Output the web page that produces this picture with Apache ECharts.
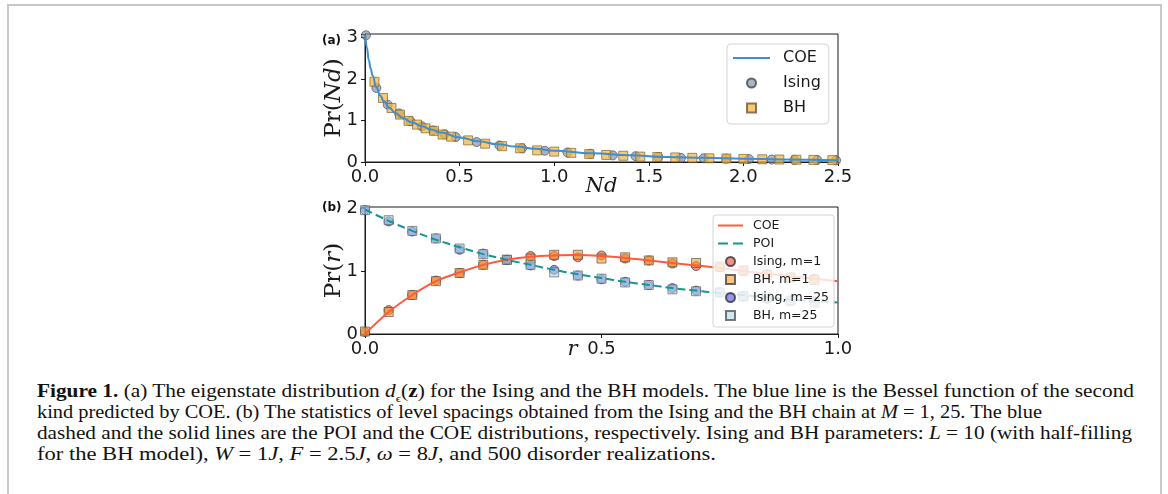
<!DOCTYPE html>
<html lang="en">
<head>
<meta charset="UTF-8">
<title>Figure 1</title>
<script src="https://cdn.jsdelivr.net/npm/echarts@6/dist/echarts.min.js"></script>
<style>
  html, body { margin: 0; padding: 0; background: #fff; }
  .frame { position: absolute; left: 7px; top: 4px; width: 1155px; height: 520px; border: 2px solid #c8c8c8; box-sizing: border-box; }
  #chart { position: absolute; left: 0; top: 0; width: 1168px; height: 370px; }
  .cap { position: absolute; left: 37px; top: 381px; font-family: 'Liberation Serif', serif; font-size: 18px; line-height: 21px; color: #111; white-space: nowrap; }
  .cap .ln { display: block; width: max-content; transform-origin: 0 50%; }
  .cap sub { font-size: 11px; line-height: 0; }
</style>
</head>
<body>
<div class="frame"></div>
<div id="chart"></div>
<div class="cap">
  <span class="ln" data-w="1097"><b>Figure 1.</b> (a) The eigenstate distribution <i>d</i><sub>ϵ</sub>(<b>z</b>) for the Ising and the BH models. The blue line is the Bessel function of the second</span>
  <span class="ln" data-w="1005">kind predicted by COE. (b) The statistics of level spacings obtained from the Ising and the BH chain at <i>M</i> = 1, 25. The blue</span>
  <span class="ln" data-w="1095">dashed and the solid lines are the POI and the COE distributions, respectively. Ising and BH parameters: <i>L</i> = 10 (with half-filling</span>
  <span class="ln" data-w="679">for the BH model), <i>W</i> = 1<i>J</i>, <i>F</i> = 2.5<i>J</i>, <i>ω</i> = 8<i>J</i>, and 500 disorder realizations.</span>
</div>

<script>
  // (a) eigenstate distribution
  var coeNdX = [0.002, 0.01, 0.02, 0.03, 0.04, 0.06, 0.08, 0.1, 0.13, 0.16, 0.2, 0.25, 0.3, 0.35, 0.4, 0.5, 0.6, 0.7, 0.8, 0.9, 1.0, 1.2, 1.4, 1.6, 1.8, 2.0, 2.2, 2.5];
  var coeNdY = [3.05, 2.75, 2.45, 2.25, 2.08, 1.8, 1.6, 1.46, 1.3, 1.18, 1.06, 0.95, 0.86, 0.78, 0.71, 0.59, 0.5, 0.43, 0.37, 0.32, 0.27, 0.21, 0.16, 0.12, 0.1, 0.08, 0.06, 0.04];
  var isingNdX = [0.005, 0.06, 0.12, 0.18, 0.24, 0.3, 0.36, 0.42, 0.48, 0.59, 0.71, 0.83, 0.95, 1.07, 1.19, 1.31, 1.43, 1.55, 1.67, 1.79, 1.91, 2.03, 2.15, 2.27, 2.39, 2.49];
  var isingNdY = [3.05, 1.78, 1.38, 1.17, 0.98, 0.86, 0.76, 0.67, 0.6, 0.48, 0.4, 0.33, 0.27, 0.23, 0.2, 0.16, 0.14, 0.12, 0.1, 0.09, 0.08, 0.07, 0.06, 0.05, 0.05, 0.04];
  var bhNdX = [0.05, 0.095, 0.14, 0.185, 0.23, 0.275, 0.32, 0.365, 0.41, 0.455, 0.545, 0.635, 0.725, 0.82, 0.91, 1.0, 1.09, 1.185, 1.275, 1.365, 1.455, 1.545, 1.64, 1.73, 1.82, 1.91, 2.0, 2.1, 2.19, 2.28, 2.37, 2.47];
  var bhNdY = [1.93, 1.54, 1.3, 1.14, 0.99, 0.9, 0.81, 0.75, 0.66, 0.61, 0.52, 0.44, 0.38, 0.33, 0.28, 0.25, 0.22, 0.19, 0.17, 0.15, 0.13, 0.12, 0.11, 0.1, 0.09, 0.085, 0.075, 0.065, 0.06, 0.055, 0.05, 0.045];

  // (b) level spacing ratio
  var curveR = [0, 0.05, 0.1, 0.15, 0.2, 0.25, 0.3, 0.35, 0.4, 0.45, 0.5, 0.55, 0.6, 0.65, 0.7, 0.75, 0.8, 0.85, 0.9, 0.95, 1.0];
  var coeR = [0, 0.35, 0.62, 0.84, 0.98, 1.1, 1.18, 1.23, 1.25, 1.255, 1.24, 1.21, 1.17, 1.13, 1.09, 1.05, 1.0, 0.96, 0.92, 0.88, 0.84];
  var poiR = [1.98, 1.8, 1.64, 1.5, 1.38, 1.27, 1.18, 1.1, 1.02, 0.95, 0.89, 0.83, 0.78, 0.73, 0.69, 0.65, 0.62, 0.58, 0.55, 0.52, 0.5];
  var pointR = [0, 0.05, 0.1, 0.15, 0.2, 0.25, 0.3, 0.35, 0.4, 0.45, 0.5, 0.55, 0.6, 0.65, 0.7, 0.75, 0.8, 0.85, 0.9, 0.95];
  var isingM1 = [0.03, 0.38, 0.62, 0.85, 0.97, 1.1, 1.18, 1.24, 1.24, 1.22, 1.25, 1.2, 1.17, 1.12, 1.08, 1.06, 1.0, 0.95, 0.9, 0.88];
  var bhM1 = [0.04, 0.35, 0.62, 0.84, 0.97, 1.1, 1.18, 1.2, 1.26, 1.26, 1.2, 1.22, 1.17, 1.14, 1.13, 1.07, 1.01, 0.94, 0.9, 0.86];
  var isingM25 = [1.97, 1.79, 1.63, 1.52, 1.34, 1.28, 1.18, 1.09, 1.02, 0.93, 0.87, 0.83, 0.78, 0.73, 0.69, 0.66, 0.6, 0.56, 0.53, 0.52];
  var bhM25 = [1.97, 1.81, 1.64, 1.52, 1.36, 1.27, 1.18, 1.1, 0.98, 0.93, 0.88, 0.82, 0.78, 0.71, 0.68, 0.66, 0.6, 0.58, 0.53, 0.5];

  function pairs(xs, ys) {
    return xs.map(function (x, i) { return [x, ys[i]]; });
  }

  // legend handles
  var lineIconA = 'path://M0,0H37V2H0Z';
  var lineIconB = 'path://M0,0H25V2H0Z';
  var dashIconB = 'path://M0,0H10V2H0Z M15,0H25V2H15Z';
  var squareIcon = 'path://M0,0H10V10H0Z';

  var ink = '#1a1a1a';
  var tickFont = { fontFamily: 'DejaVu Sans', fontSize: 18, color: ink };
  function serifRich(size) {
    return {
      n: { fontFamily: 'DejaVu Serif', fontSize: size, color: ink },
      i: { fontFamily: 'DejaVu Serif', fontStyle: 'italic', fontSize: size, color: ink }
    };
  }

  function xAxisCfg(idx, max, name, gap, namePad) {
    return {
      gridIndex: idx, type: 'value', min: 0, max: max, interval: 0.5,
      name: name, nameLocation: 'middle', nameGap: gap, nameMoveOverlap: false,
      nameTextStyle: { rich: serifRich(21), padding: namePad },
      axisLine: { lineStyle: { color: ink, width: 1 } },
      axisTick: { length: 4, lineStyle: { color: ink } },
      axisLabel: Object.assign({ margin: 6, formatter: function (v) { return v.toFixed(1); } }, tickFont),
      splitLine: { show: false }
    };
  }

  function yAxisCfg(idx, max, name) {
    return {
      gridIndex: idx, type: 'value', min: 0, max: max, interval: 1,
      name: name, nameLocation: 'middle', nameGap: 19, nameMoveOverlap: false,
      nameTextStyle: { rich: serifRich(23) },
      axisLine: { lineStyle: { color: ink, width: 1 } },
      axisTick: { length: 4, lineStyle: { color: ink } },
      axisLabel: Object.assign({ margin: 7, formatter: function (v) { return Math.abs(v - Math.round(v)) < 1e-6 ? String(Math.round(v)) : ''; } }, tickFont),
      splitLine: { show: false }
    };
  }

  var options = {
    animation: false,
    grid: [
      { left: 365, top: 34, width: 473, height: 128, show: true, borderColor: ink, borderWidth: 1 },
      { left: 365, top: 207, width: 473, height: 127, show: true, borderColor: ink, borderWidth: 1 }
    ],
    xAxis: [
      xAxisCfg(0, 2.5, '{i|Nd}', 14, [0, 0, 0, 0]),
      xAxisCfg(1, 1.0, '{i|r}', 5, [0, 58, 0, 0])
    ],
    yAxis: [
      yAxisCfg(0, 3.08, '{n|Pr(}{i|Nd}{n|)}'),
      yAxisCfg(1, 2.02, '{n|Pr(}{i|r}{n|)}')
    ],
    graphic: [
      { type: 'text', left: 322, top: 35, style: { text: '(a)', font: 'bold 12px "DejaVu Sans"', fill: '#111' } },
      { type: 'text', left: 322, top: 202, style: { text: '(b)', font: 'bold 12px "DejaVu Sans"', fill: '#111' } }
    ],
    legend: [
      {
        data: [
          { name: 'COE', icon: lineIconA },
          { name: 'Ising', icon: 'circle' },
          { name: 'BH', icon: squareIcon }
        ],
        orient: 'vertical', left: 727, top: 44,
        padding: [6, 8, 8, 6], itemGap: 9, itemWidth: 37, itemHeight: 9,
        backgroundColor: 'rgba(255,255,255,0.85)', borderColor: '#d4d4d4', borderWidth: 1, borderRadius: 4,
        selectedMode: false,
        textStyle: { fontFamily: 'DejaVu Sans', fontSize: 16, color: ink, padding: [0, 0, 0, 8] }
      },
      {
        data: [
          { name: 'COE ', icon: lineIconB },
          { name: 'POI', icon: dashIconB },
          { name: 'Ising, m=1', icon: 'circle' },
          { name: 'BH, m=1', icon: squareIcon },
          { name: 'Ising, m=25', icon: 'circle' },
          { name: 'BH, m=25', icon: squareIcon }
        ],
        orient: 'vertical', left: 713, top: 215,
        padding: [4, 5, 5, 5], itemGap: 5, itemWidth: 25, itemHeight: 9,
        backgroundColor: 'rgba(255,255,255,0.8)', borderColor: '#d4d4d4', borderWidth: 1, borderRadius: 3,
        selectedMode: false,
        formatter: function (n) { return n.trim(); },
        textStyle: { fontFamily: 'DejaVu Sans', fontSize: 12.5, color: ink, padding: [0, 0, 0, 5] }
      }
    ],
    series: [
      {
        name: 'COE', type: 'line', xAxisIndex: 0, yAxisIndex: 0, data: pairs(coeNdX, coeNdY),
        symbol: 'none', smooth: true, smoothMonotone: 'x',
        lineStyle: { color: '#3d8fd0', width: 2 }, itemStyle: { color: '#3d8fd0' }
      },
      {
        name: 'Ising', type: 'scatter', xAxisIndex: 0, yAxisIndex: 0, data: pairs(isingNdX, isingNdY),
        symbol: 'circle', symbolSize: 9,
        itemStyle: { color: 'rgba(125,138,152,0.8)', borderColor: '#3c4650', borderWidth: 0.8 }
      },
      {
        name: 'BH', type: 'scatter', xAxisIndex: 0, yAxisIndex: 0, data: pairs(bhNdX, bhNdY),
        symbol: 'rect', symbolSize: 9,
        itemStyle: { color: 'rgba(246,178,52,0.88)', borderColor: '#6b5636', borderWidth: 0.8 }
      },
      {
        name: 'COE ', type: 'line', xAxisIndex: 1, yAxisIndex: 1, data: pairs(curveR, coeR),
        symbol: 'none', smooth: 0.35,
        lineStyle: { color: '#ff5a3a', width: 2 }, itemStyle: { color: '#ff5a3a' }
      },
      {
        name: 'POI', type: 'line', xAxisIndex: 1, yAxisIndex: 1, data: pairs(curveR, poiR),
        symbol: 'none', smooth: 0.35,
        lineStyle: { color: '#16968f', width: 2, type: [8, 4] }, itemStyle: { color: '#16968f' }
      },
      {
        name: 'Ising, m=1', type: 'scatter', xAxisIndex: 1, yAxisIndex: 1, data: pairs(pointR, isingM1),
        symbol: 'circle', symbolSize: 9,
        itemStyle: { color: 'rgba(235,70,60,0.75)', borderColor: '#333', borderWidth: 0.8 }
      },
      {
        name: 'BH, m=1', type: 'scatter', xAxisIndex: 1, yAxisIndex: 1, data: pairs(pointR, bhM1),
        symbol: 'rect', symbolSize: 9,
        itemStyle: { color: 'rgba(247,160,40,0.75)', borderColor: '#444', borderWidth: 0.8 }
      },
      {
        name: 'Ising, m=25', type: 'scatter', xAxisIndex: 1, yAxisIndex: 1, data: pairs(pointR, isingM25),
        symbol: 'circle', symbolSize: 9,
        itemStyle: { color: 'rgba(80,80,230,0.75)', borderColor: '#333', borderWidth: 0.8 }
      },
      {
        name: 'BH, m=25', type: 'scatter', xAxisIndex: 1, yAxisIndex: 1, data: pairs(pointR, bhM25),
        symbol: 'rect', symbolSize: 9,
        itemStyle: { color: 'rgba(170,212,228,0.7)', borderColor: '#555', borderWidth: 0.8 }
      }
    ]
  };

  var myChart = echarts.init(document.getElementById('chart'));
  myChart.setOption(options);

  // stretch each caption line to the width it has in the figure
  var lines = document.querySelectorAll('.cap .ln');
  for (var k = 0; k < lines.length; k++) {
    var w = lines[k].getBoundingClientRect().width;
    lines[k].style.transform = 'scaleX(' + (lines[k].getAttribute('data-w') / w) + ')';
  }
</script>
</body>
</html>
